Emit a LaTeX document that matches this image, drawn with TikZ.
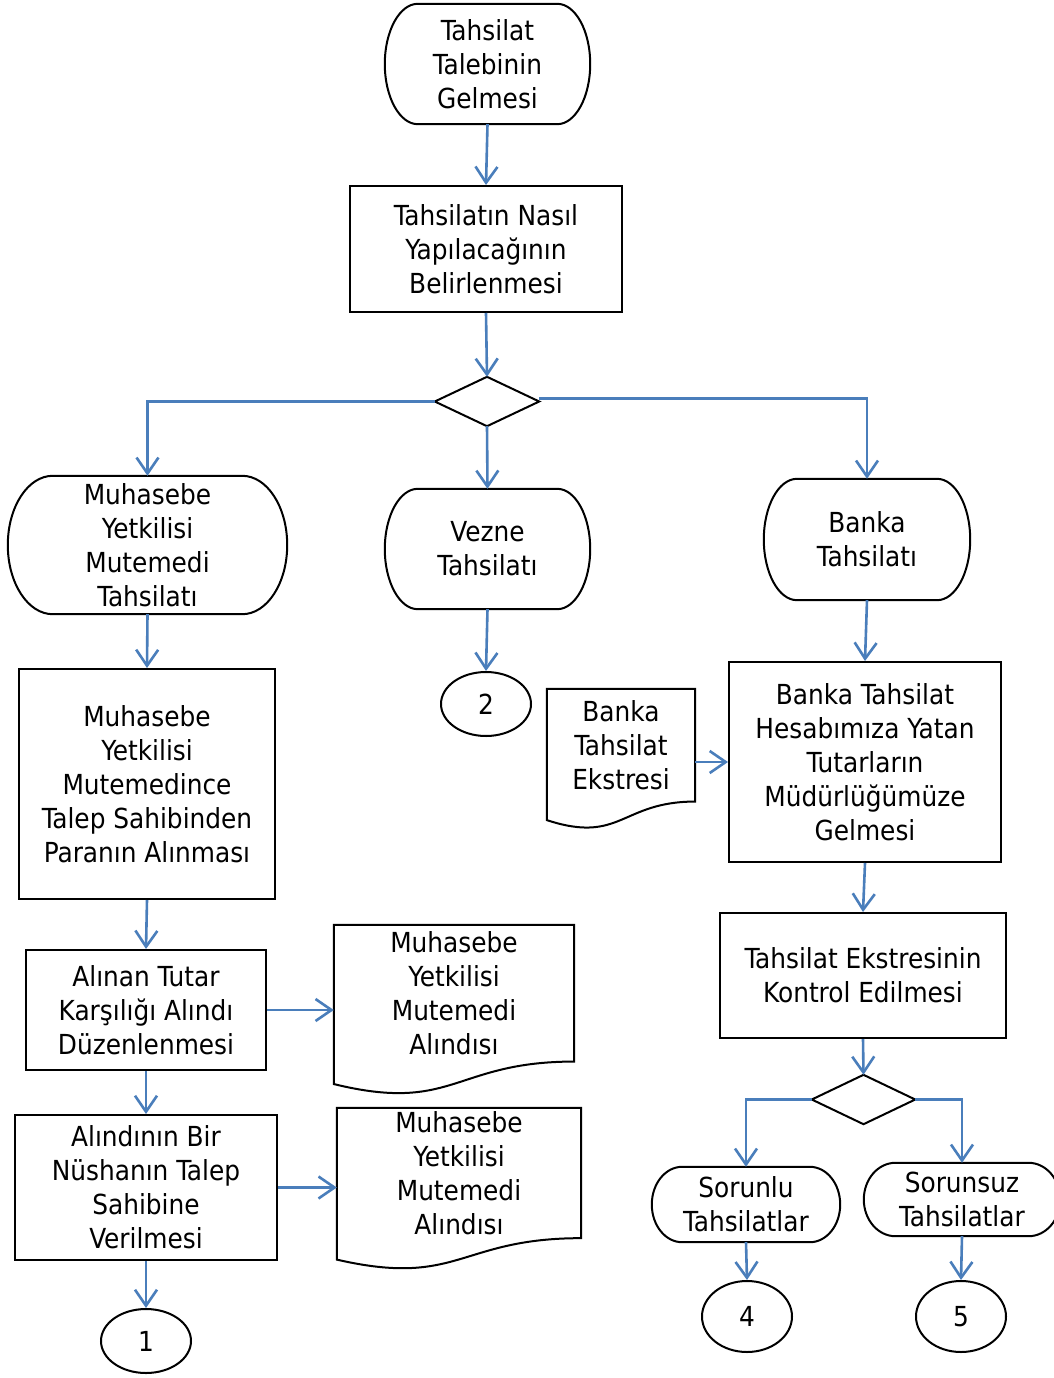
\documentclass[tikz,border=0pt]{standalone}
\usepackage{fontspec}
\setmainfont{DejaVu Sans Condensed}
\usetikzlibrary{shapes.geometric,arrows.meta,calc}
\definecolor{linkblue}{RGB}{74,126,187}
\tikzset{
  lbl/.style={rectangle, inner sep=0pt, align=center, font=\fontsize{27.6}{34}\selectfont},
  box/.style={lbl, draw=black, line width=2pt},
  conn/.style={ellipse, draw=black, line width=2pt, inner sep=0pt, font=\fontsize{27.6}{34}\selectfont},
  flow/.style={draw=linkblue, line width=2.6pt, -{Straight Barb[length=16pt,width=22pt]}},
  outline/.style={draw=black, line width=2pt},
}
\newcommand\termshape[1]{\draw[outline] let \p1=(#1.north west), \p2=(#1.south east), \n1={0.161*(\x2-\x1)}, \n2={0.5*(\y1-\y2)} in (\x1+\n1,\y1) -- (\x2-\n1,\y1) arc[start angle=90,end angle=-90,x radius=\n1,y radius=\n2] -- (\x1+\n1,\y2) arc[start angle=270,end angle=90,x radius=\n1,y radius=\n2] -- cycle;}
\newcommand\docshape[1]{\draw[outline] let \p1=(#1.north west), \p2=(#1.south east), \n1={(\y1-\y2)/0.802} in (\p1) -- (\x2,\y1) -- (\p2) .. controls ({0.5*(\x1+\x2)},\y2) and ({0.5*(\x1+\x2)},{\y1-1.107*\n1}) .. (\x1,{\y1-0.934*\n1}) -- cycle;}
\newcommand\diashape[1]{\draw[outline] (#1.north) -- (#1.east) -- (#1.south) -- (#1.west) -- cycle;}
\begin{document}
\begin{tikzpicture}[x=1pt,y=1pt]
\fill[white] (0,0) rectangle (1053,-1378);
\useasboundingbox (0,0) rectangle (1053,-1378);

% center column
\node[lbl, minimum width=205pt, minimum height=120pt] (start) at (487.5,-64) {Tahsilat\\Talebinin\\Gelmesi};
\termshape{start}
\node[box, minimum width=272pt, minimum height=126pt] (r2) at (486,-249) {Tahsilatın Nasıl\\Yapılacağının\\Belirlenmesi};
\node[lbl, minimum width=104pt, minimum height=49pt] (d1) at (487,-401.5) {};
\diashape{d1}
\node[lbl, minimum width=205pt, minimum height=120pt] (vezne) at (487.5,-549) {Vezne\\Tahsilatı};
\termshape{vezne}
\node[conn, minimum width=90pt, minimum height=64pt] (c2) at (486,-704) {2};

% left column
\node[lbl, minimum width=279pt, minimum height=138pt] (lterm) at (147.5,-545) {Muhasebe\\Yetkilisi\\Mutemedi\\Tahsilatı};
\termshape{lterm}
\node[box, minimum width=256pt, minimum height=230pt] (r16) at (147,-784) {Muhasebe\\Yetkilisi\\Mutemedince\\Talep Sahibinden\\Paranın Alınması};
\node[box, minimum width=240pt, minimum height=120pt] (r17) at (146,-1010) {Alınan Tutar\\Karşılığı Alındı\\Düzenlenmesi};
\node[lbl, minimum width=240pt, minimum height=136.3pt] (doc1) at (454,-993.2) {Muhasebe\\Yetkilisi\\Mutemedi\\Alındısı};
\docshape{doc1}
\node[box, minimum width=262pt, minimum height=145pt] (r19) at (146,-1187.5) {Alındının Bir\\Nüshanın Talep\\Sahibine\\Verilmesi};
\node[lbl, minimum width=244pt, minimum height=129.9pt] (doc2) at (459,-1173) {Muhasebe\\Yetkilisi\\Mutemedi\\Alındısı};
\docshape{doc2}
\node[conn, minimum width=90pt, minimum height=64pt] (c1) at (146,-1341) {1};

% right column
\node[lbl, minimum width=206pt, minimum height=121pt] (banka) at (867,-539.5) {Banka\\Tahsilatı};
\termshape{banka}
\node[lbl, minimum width=148pt, minimum height=112.3pt] (docb) at (621,-745.2) {Banka\\Tahsilat\\Ekstresi};
\docshape{docb}
\node[box, minimum width=272pt, minimum height=200pt] (r9) at (865,-762) {Banka Tahsilat\\Hesabımıza Yatan\\Tutarların\\Müdürlüğümüze\\Gelmesi};
\node[box, minimum width=286pt, minimum height=125pt] (r10) at (863,-975.5) {Tahsilat Ekstresinin\\Kontrol Edilmesi};
\node[lbl, minimum width=103pt, minimum height=49pt] (d2) at (863.5,-1099.5) {};
\diashape{d2}
\node[lbl, minimum width=188pt, minimum height=75pt] (sorunlu) at (746,-1204.5) {Sorunlu\\Tahsilatlar};
\termshape{sorunlu}
\node[lbl, minimum width=196pt, minimum height=73pt] (sorunsuz) at (962,-1199.5) {Sorunsuz\\Tahsilatlar};
\termshape{sorunsuz}
\node[conn, minimum width=90pt, minimum height=71pt] (c4) at (747,-1316.5) {4};
\node[conn, minimum width=90pt, minimum height=71pt] (c5) at (961,-1316.5) {5};

% connectors
\draw[flow] (start.south) -- (r2.north);
\draw[flow] (r2.south) -- (d1.north);
\draw[flow] (d1.west) -| (lterm.north);
\draw[flow] (d1.south) -- (vezne.north);
\draw[flow] ([yshift=3pt]d1.east) -| (banka.north);
\draw[flow] (vezne.south) -- (c2.north);
\draw[flow] (banka.south) -- (r9.north);
\draw[flow] (docb.east |- r9.west) -- (r9.west);
\draw[flow] (r9.south) -- (r10.north);
\draw[flow] (r10.south) -- (d2.north);
\draw[flow] (d2.west) -| (sorunlu.north);
\draw[flow] (d2.east) -| (sorunsuz.north);
\draw[flow] (sorunlu.south) -- (c4.north);
\draw[flow] (sorunsuz.south) -- (c5.north);
\draw[flow] (lterm.south) -- (r16.north);
\draw[flow] (r16.south) -- (r17.north);
\draw[flow] (r17.east) -- (r17.east -| doc1.west);
\draw[flow] (r17.south) -- (r19.north);
\draw[flow] (r19.east) -- (r19.east -| doc2.west);
\draw[flow] (r19.south) -- (c1.north);
\end{tikzpicture}
\end{document}
